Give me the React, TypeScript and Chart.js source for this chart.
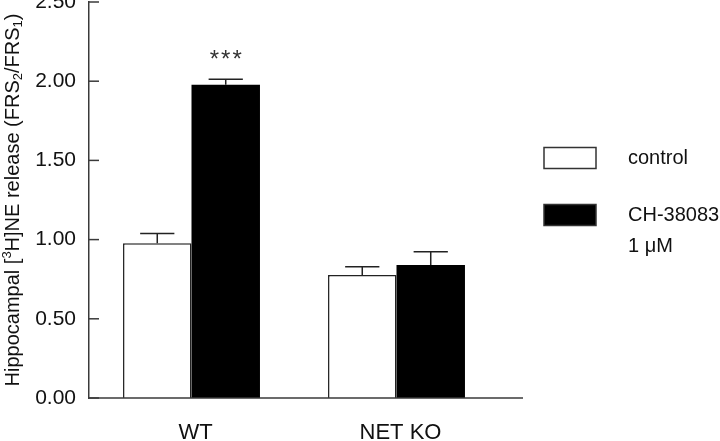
import React, { useEffect, useRef } from "react";
import { Chart, registerables } from "chart.js";

Chart.register(...registerables);

const categories = ["WT", "NET KO"];
const controlValues = [0.977, 0.776];
const controlErrors = [0.061, 0.052];
const chValues = [1.977, 0.839];
const chErrors = [0.036, 0.085];
const chSignificance = ["***", ""];
const controlSignificance = ["", ""];
const seriesLabels = [["control"], ["CH-38083", "1 μM"]];
const yMin = 0;
const yMax = 2.5;
const yStep = 0.5;

const FONT = "'Liberation Sans', Arial, sans-serif";
const TEXT = "#111";
const AXIS = "#3a3a3a";

const errorBarPlugin = {
  id: "errorBars",
  afterDatasetsDraw(chart: any) {
    const ctx = chart.ctx;
    const yScale = chart.scales.y;
    chart.data.datasets.forEach((ds: any, di: number) => {
      const meta = chart.getDatasetMeta(di);
      meta.data.forEach((bar: any, i: number) => {
        const v = ds.data[i];
        const err = ds.errors[i];
        const { x, y, width } = bar.getProps(["x", "y", "width"], true);
        const top = yScale.getPixelForValue(v + err);
        ctx.save();
        ctx.strokeStyle = "#222";
        ctx.lineWidth = 1.5;
        ctx.beginPath();
        ctx.moveTo(x, y);
        ctx.lineTo(x, top);
        ctx.moveTo(x - width / 4, top);
        ctx.lineTo(x + width / 4, top);
        ctx.stroke();
        const sig = ds.significance?.[i];
        if (sig) {
          ctx.fillStyle = "#333";
          ctx.font = `24px ${FONT}`;
          (ctx as any).letterSpacing = "2px";
          ctx.textAlign = "center";
          ctx.textBaseline = "middle";
          ctx.fillText(sig, x + 1, top - 19);
        }
        ctx.restore();
      });
    });
  },
};

const axisPlugin = {
  id: "axisDecor",
  afterDraw(chart: any) {
    const ctx = chart.ctx;
    const { left, right, bottom } = chart.chartArea;
    const yScale = chart.scales.y;
    ctx.save();
    ctx.strokeStyle = AXIS;
    ctx.lineWidth = 1.5;
    // x axis line (extends past the last category)
    ctx.beginPath();
    ctx.moveTo(left, bottom);
    ctx.lineTo(right + 24, bottom);
    ctx.stroke();
    // inward tick marks on y axis
    yScale.ticks.forEach((t: any) => {
      const py = yScale.getPixelForValue(t.value);
      ctx.beginPath();
      ctx.moveTo(left, py);
      ctx.lineTo(left + 10, py);
      ctx.stroke();
    });
    ctx.restore();

    // y axis title with sub/superscripts
    const segs: [string, string][] = [
      ["Hippocampal [", "n"],
      ["3", "sup"],
      ["H]NE release (FRS", "n"],
      ["2", "sub"],
      ["/FRS", "n"],
      ["1", "sub"],
      [")", "n"],
    ];
    const big = 20;
    const small = 13;
    ctx.save();
    let total = 0;
    segs.forEach(([s, k]) => {
      ctx.font = `${k === "n" ? big : small}px ${FONT}`;
      total += ctx.measureText(s).width;
    });
    ctx.translate(13, (chart.chartArea.top + bottom) / 2 - 0);
    ctx.rotate(-Math.PI / 2);
    ctx.fillStyle = TEXT;
    ctx.textBaseline = "middle";
    ctx.textAlign = "left";
    let cx = -total / 2;
    segs.forEach(([s, k]) => {
      ctx.font = `${k === "n" ? big : small}px ${FONT}`;
      const dy = k === "sup" ? -6 : k === "sub" ? 5 : 0;
      ctx.fillText(s, cx, dy);
      cx += ctx.measureText(s).width;
    });
    ctx.restore();

    // legend
    ctx.save();
    const boxX = 544;
    const boxW = 52;
    const boxH = 21;
    const textX = 628;
    const rowYs = [158, 215];
    const lineH = 31;
    chart.data.datasets.forEach((ds: any, di: number) => {
      const cy = rowYs[di];
      ctx.fillStyle = ds.backgroundColor;
      ctx.fillRect(boxX, cy - boxH / 2, boxW, boxH);
      ctx.strokeStyle = "#333";
      ctx.lineWidth = 1.5;
      ctx.strokeRect(boxX, cy - boxH / 2, boxW, boxH);
      ctx.fillStyle = TEXT;
      ctx.font = `20px ${FONT}`;
      ctx.textAlign = "left";
      ctx.textBaseline = "middle";
      ds.label.forEach((line: string, li: number) => {
        ctx.fillText(line, textX, cy + li * lineH);
      });
    });
    ctx.restore();
  },
};

export default function App() {
  const ref = useRef<HTMLCanvasElement | null>(null);
  useEffect(() => {
    if (!ref.current) return;
    const chart = new Chart(ref.current, {
      type: "bar",
      data: {
        labels: categories,
        datasets: [
          {
            label: seriesLabels[0] as any,
            data: controlValues,
            errors: controlErrors,
            significance: controlSignificance,
            backgroundColor: "#ffffff",
            borderColor: "#222",
            borderWidth: 1.5,
            categoryPercentage: 0.668,
            barPercentage: 1.0,
          } as any,
          {
            label: seriesLabels[1] as any,
            data: chValues,
            errors: chErrors,
            significance: chSignificance,
            backgroundColor: "#000000",
            borderColor: "#000",
            borderWidth: 0,
            categoryPercentage: 0.668,
            barPercentage: 1.0,
          } as any,
        ],
      },
      options: {
        animation: false,
        responsive: false,
        layout: { padding: { top: 2, right: 221, left: 0, bottom: 0 } },
        plugins: {
          legend: { display: false },
          title: { display: false },
          tooltip: { enabled: false },
        },
        scales: {
          x: {
            grid: { display: false, drawTicks: false },
            border: { display: false },
            ticks: {
              color: TEXT,
              font: { family: FONT, size: 22 },
              padding: 22,
              labelOffset: 4,
              maxRotation: 0,
            },
            afterFit(scale: any) {
              scale.height = 43;
              scale.paddingLeft = 0;
              scale.paddingRight = 0;
            },
          },
          y: {
            min: yMin,
            max: yMax,
            grid: { display: false, drawTicks: false },
            border: { display: true, color: AXIS, width: 1.5 },
            ticks: {
              stepSize: yStep,
              color: TEXT,
              font: { family: FONT, size: 21 },
              padding: 13,
              callback: (v: any) => Number(v).toFixed(2),
            },
            afterFit(scale: any) {
              scale.width = 89;
              scale.paddingTop = 0;
              scale.paddingBottom = 0;
            },
          },
        },
      } as any,
      plugins: [errorBarPlugin, axisPlugin],
    });
    return () => chart.destroy();
  }, []);
  return (
    <div style={{ position: "absolute", left: 0, top: 0, width: 720, height: 441, background: "#fff" }}>
      <canvas ref={ref} width={720} height={441} />
    </div>
  );
}
